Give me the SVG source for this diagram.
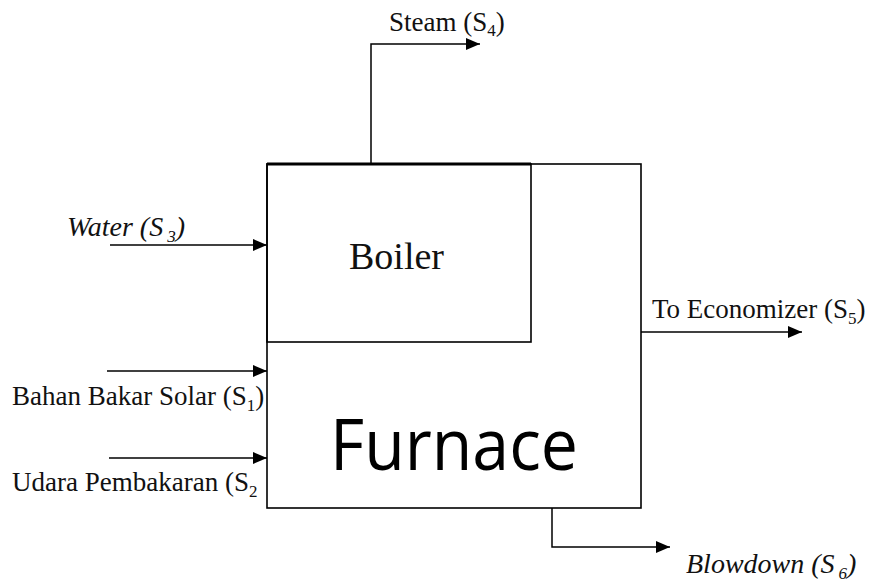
<svg xmlns="http://www.w3.org/2000/svg" width="869" height="583" viewBox="0 0 869 583">
<style>
.box{fill:none;stroke:#000;stroke-width:1.6}
.ln{fill:none;stroke:#000;stroke-width:1.5}
.t{font-family:"Liberation Serif","Times New Roman",serif;font-size:27px;fill:#111}
.i{font-style:italic;font-size:28px}
.sub{font-size:17px}
</style>
<defs>
<marker id="ah" viewBox="0 0 14 12" refX="14" refY="6" markerWidth="14" markerHeight="12" markerUnits="userSpaceOnUse" orient="auto">
<path d="M0,0 L14,6 L0,12 Z" fill="#000"/>
</marker>
</defs>
<rect width="869" height="583" fill="#fff"/>
<g id="furnace">
<rect class="box" x="267" y="164" width="374" height="344"/>
<text x="330" y="470" font-family="'Open Sans','Noto Sans',sans-serif" font-size="72" fill="#000" textLength="248" lengthAdjust="spacingAndGlyphs">Furnace</text>
</g>
<g id="boiler">
<rect class="box" x="267" y="164" width="264" height="178"/>
<line x1="267" y1="164" x2="531" y2="164" stroke="#000" stroke-width="3"/>
<text class="t" x="349" y="269" style="font-size:38px">Boiler</text>
</g>
<g id="connectors">
<polyline class="ln" points="371,164 371,44 480,44" marker-end="url(#ah)"/>
<line class="ln" x1="110" y1="245" x2="267" y2="245" marker-end="url(#ah)"/>
<line class="ln" x1="107" y1="371" x2="267" y2="371" marker-end="url(#ah)"/>
<line class="ln" x1="109" y1="458" x2="267" y2="458" marker-end="url(#ah)"/>
<line class="ln" x1="641" y1="332" x2="802" y2="332" marker-end="url(#ah)"/>
<polyline class="ln" points="552,508 552,547 670,547" marker-end="url(#ah)"/>
</g>
<g id="labels">
<text class="t" x="389" y="31">Steam (S<tspan class="sub" dy="5">4</tspan><tspan dy="-5">)</tspan></text>
<text class="t i" x="67" y="236">Water (S<tspan class="sub" dx="4" dy="6">3</tspan><tspan dy="-6">)</tspan></text>
<text class="t" x="12" y="405">Bahan Bakar Solar (S<tspan class="sub" dy="6">1</tspan><tspan dy="-6">)</tspan></text>
<text class="t" x="12" y="491">Udara Pembakaran (S<tspan class="sub" dy="6">2</tspan></text>
<text class="t" x="652" y="318">To Economizer (S<tspan class="sub" dy="6">5</tspan><tspan dy="-6">)</tspan></text>
<text class="t i" x="686" y="573">Blowdown (S<tspan class="sub" dx="4" dy="6">6</tspan><tspan dy="-6">)</tspan></text>
</g>
</svg>
